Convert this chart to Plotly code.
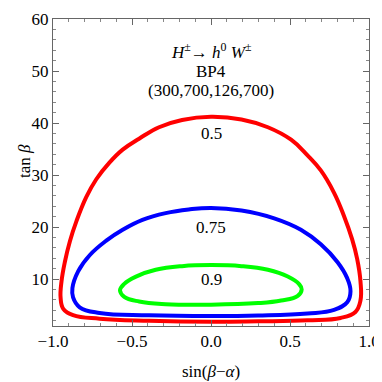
import plotly.graph_objects as go

# contour lines (x = sin(beta-alpha), y = tan beta)
red_x = [0.0, -0.183, -0.329, -0.455, -0.559, -0.643, -0.726, -0.789, -0.851, -0.893,
         -0.925, -0.946, -0.952, -0.935, -0.873, -0.705, -0.392, 0.0, 0.298, 0.611,
         0.82, 0.914, 0.946, 0.946, 0.925, 0.893, 0.841, 0.779, 0.695, 0.611,
         0.507, 0.36, 0.193, 0.0]
red_y = [41.2, 40.6, 39.2, 37.0, 34.9, 32.4, 29.2, 25.8, 21.2, 17.3,
         13.3, 9.6, 6.5, 4.3, 3.1, 2.4, 2.0, 1.8, 1.9, 2.1,
         2.55, 3.7, 5.9, 9.6, 13.9, 17.7, 22.2, 26.6, 30.9, 33.8,
         36.8, 39.2, 40.7, 41.2]

blue_x = [0.0, -0.141, -0.287, -0.434, -0.559, -0.663, -0.768, -0.841, -0.877, -0.873,
          -0.831, -0.705, -0.392, 0.0, 0.298, 0.611, 0.779, 0.862, 0.883, 0.862,
          0.80, 0.695, 0.569, 0.40, 0.193, 0.0]
blue_y = [23.7, 23.4, 22.7, 21.4, 19.5, 17.4, 14.6, 11.5, 8.3, 6.5,
          4.6, 3.5, 3.05, 2.9, 3.0, 3.4, 4.1, 5.55, 7.7, 10.2,
          13.3, 16.7, 19.5, 21.7, 23.2, 23.7]

green_x = [0.0, -0.183, -0.35, -0.475, -0.549, -0.576, -0.549, -0.455, -0.287, 0.0,
           0.298, 0.444, 0.549, 0.574, 0.559, 0.486, 0.36, 0.193, 0.0]
green_y = [12.7, 12.5, 11.8, 10.5, 9.1, 7.85, 6.6, 5.7, 5.2, 5.1,
           5.4, 5.9, 6.8, 8.05, 9.0, 10.5, 11.8, 12.5, 12.7]

levels = ["0.5", "0.75", "0.9"]
level_y = [38.0, 19.9, 9.9]

title_lines = ["<i>H</i><sup>±</sup>→ <i>h</i><sup>0</sup> <i>W</i><sup>±</sup>",
               "BP4", "(300,700,126,700)"]
title_y = [53.9, 49.9, 46.2]

serif = "Liberation Serif"

fig = go.Figure()
for xs, ys, col in [(red_x, red_y, "#ff0000"), (blue_x, blue_y, "#0000ff"),
                    (green_x, green_y, "#00ff00")]:
    fig.add_trace(go.Scatter(x=xs, y=ys, mode="lines",
                             line=dict(color=col, width=4, shape="spline", smoothing=1.2),
                             showlegend=False, hoverinfo="skip"))

for t, yy in zip(levels, level_y):
    fig.add_annotation(x=0, y=yy, text=t, showarrow=False,
                       font=dict(family=serif, size=17, color="black"))

for t, yy in zip(title_lines, title_y):
    fig.add_annotation(x=0, y=yy, text=t, showarrow=False,
                       font=dict(family=serif, size=17, color="black"))

# y axis title placed by hand (it sits above the axis middle in the reference)
fig.add_annotation(xref="paper", x=0, xshift=-40, y=32.6, text="tan <i>β</i>",
                   textangle=-90, showarrow=False,
                   font=dict(family=serif, size=17, color="black"))

axis_common = dict(showline=True, linecolor="#666666", linewidth=1, mirror="allticks",
                   ticks="inside", ticklen=6, tickcolor="#666666", showgrid=False,
                   zeroline=False, ticklabeloverflow="allow",
                   tickfont=dict(family=serif, size=17, color="black"))

fig.update_xaxes(range=[-1, 1], tickvals=[-1, -0.5, 0, 0.5, 1],
                 ticktext=["\u22121.0", "\u22120.5", "0.0", "0.5", "1.0"],
                 minor=dict(ticks="inside", dtick=0.1, ticklen=3, tickcolor="#888888"),
                 title=dict(text="sin(<i>β</i>\u2212<i>α</i>)",
                            font=dict(family=serif, size=17, color="black"), standoff=14),
                 **axis_common)
fig.update_yaxes(range=[1, 60], tickvals=[10, 20, 30, 40, 50, 60],
                 minor=dict(ticks="inside", tick0=0, dtick=2, ticklen=3, tickcolor="#888888"),
                 **axis_common)

# page body adds an 8px offset, so the figure is a bit smaller than the window
fig.update_layout(width=374, height=374, margin=dict(l=45, r=10, t=2, b=56),
                  plot_bgcolor="white", paper_bgcolor="white")

fig.write_html("out.html")
